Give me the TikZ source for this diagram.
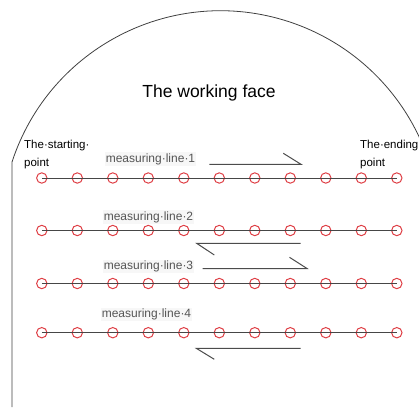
\documentclass[tikz,border=0pt]{standalone}
\usepackage{fontspec}
\setmainfont{Liberation Sans}
\definecolor{ptred}{RGB}{222,62,68}
\definecolor{lblgray}{RGB}{85,85,85}
\definecolor{linegray}{RGB}{70,70,70}
\begin{document}
\begin{tikzpicture}[x=1pt,y=-1pt,
  wall/.style={draw=black!75,line width=0.8pt},
  pt/.style={circle,draw=ptred,line width=1pt,inner sep=0pt,minimum size=10.4pt},
  mline/.style={draw=linegray,line width=0.9pt},
  lbl/.style={font=\fontsize{12}{14}\selectfont,text=lblgray,inner sep=1pt,fill=black!3},
  endlbl/.style={font=\fontsize{11.5}{18}\selectfont,align=left,inner sep=0pt,text=black},
  harp/.style={draw=black!70,line width=1pt},
  title/.style={font=\fontsize{17.5}{20}\selectfont,inner sep=0pt}]
\useasboundingbox (0,0) rectangle (419,407);
\clip (0,0) rectangle (419,407);
% outline of the working face
\draw[wall] (12,407) -- (12,162) arc[start angle=198.1, end angle=350, radius=219.4];
\node[title] (title) at (209,93) {The working face};
\node[endlbl,anchor=west] (start) at (24,155) {The·starting·\\point};
\node[endlbl,anchor=west] (end) at (360,155) {The·ending\\point};
% measuring lines
\foreach \r/\yy in {1/178,2/230.5,3/283.5,4/332.7}{
  \foreach \i in {0,...,10}{
    \node[pt] (c\r-\i) at ({41.8+35.5*\i},\yy) {};
  }
  \draw[mline] (c\r-0.center) -- (c\r-10.center);
}
\node[lbl] (l1) at (150.5,159) {measuring·line·1};
\node[lbl] (l2) at (148.5,217) {measuring·line·2};
\node[lbl] (l3) at (148.5,266.7) {measuring·line·3};
\node[lbl] (l4) at (146.5,314.3) {measuring·line·4};
% direction harpoons
\coordinate (a1s) at (209.3,164.3); \coordinate (a1t) at (301,164.3); \coordinate (a1b) at (283.3,153.3);
\coordinate (a2s) at (300.7,243.3); \coordinate (a2t) at (196.7,243.3); \coordinate (a2b) at (214.3,255);
\coordinate (a3s) at (202.7,268.5); \coordinate (a3t) at (307,268.5); \coordinate (a3b) at (289.5,257.3);
\coordinate (a4s) at (300.7,348.3); \coordinate (a4t) at (196.3,348.3); \coordinate (a4b) at (214.3,359.3);
\foreach \k in {1,2,3,4}{
  \draw[harp] (a\k s) -- (a\k t) -- (a\k b);
}
\end{tikzpicture}
\end{document}
